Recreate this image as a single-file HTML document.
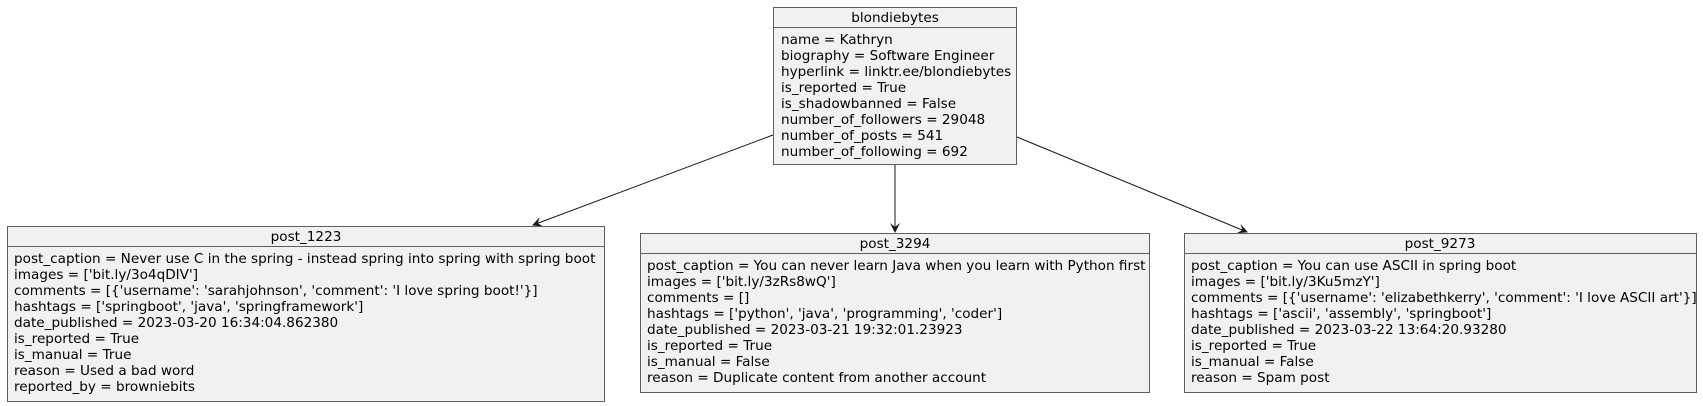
<!DOCTYPE html>
<html><head><meta charset="utf-8"><style>
html,body{margin:0;padding:0;background:#fff;}
svg{display:block;}
text{font-family:"DejaVu Sans","Liberation Sans",sans-serif;font-size:13.6px;fill:#000;}
</style></head><body>
<svg width="1703" height="406" viewBox="0 0 1703 406" xmlns="http://www.w3.org/2000/svg">
<defs><marker id="a" markerWidth="10" markerHeight="10" refX="9" refY="5" orient="auto" markerUnits="userSpaceOnUse"><path d="M0,0 L10,5 L0,10 L4,5 Z" fill="#181818"/></marker></defs>
<g stroke="#181818" stroke-width="1" fill="none">
<line x1="773" y1="135" x2="533" y2="225" marker-end="url(#a)"/>
<line x1="895" y1="165" x2="895" y2="232" marker-end="url(#a)"/>
<line x1="1017" y1="137" x2="1247" y2="232" marker-end="url(#a)"/>
</g>
<g fill="#F1F1F1" stroke="#5f5f5f" stroke-width="1">
<rect x="773.5" y="7.5" width="243" height="157"/>
<rect x="7.5" y="226.5" width="597" height="175"/>
<rect x="640.5" y="233.5" width="509" height="159"/>
<rect x="1184.5" y="233.5" width="512" height="159"/>
</g>
<g stroke="#5f5f5f" stroke-width="1">
<line x1="773" y1="27.5" x2="1017" y2="27.5"/>
<line x1="7" y1="246.5" x2="605" y2="246.5"/>
<line x1="640" y1="253.5" x2="1150" y2="253.5"/>
<line x1="1184" y1="253.5" x2="1697" y2="253.5"/>
</g>
<text x="895" y="22" text-anchor="middle">blondiebytes</text>
<g>
<text x="781" y="44">name = Kathryn</text>
<text x="781" y="60">biography = Software Engineer</text>
<text x="781" y="76">hyperlink = linktr.ee/blondiebytes</text>
<text x="781" y="92">is_reported = True</text>
<text x="781" y="108">is_shadowbanned = False</text>
<text x="781" y="124">number_of_followers = 29048</text>
<text x="781" y="140">number_of_posts = 541</text>
<text x="781" y="156">number_of_following = 692</text>
</g>
<text x="306" y="241" text-anchor="middle">post_1223</text>
<g>
<text x="14" y="263">post_caption = Never use C in the spring - instead spring into spring with spring boot</text>
<text x="14" y="279">images = ['bit.ly/3o4qDIV']</text>
<text x="14" y="295">comments = [{'username': 'sarahjohnson', 'comment': 'I love spring boot!'}]</text>
<text x="14" y="311">hashtags = ['springboot', 'java', 'springframework']</text>
<text x="14" y="327">date_published = 2023-03-20 16:34:04.862380</text>
<text x="14" y="343">is_reported = True</text>
<text x="14" y="359">is_manual = True</text>
<text x="14" y="375">reason = Used a bad word</text>
<text x="14" y="391">reported_by = browniebits</text>
</g>
<text x="895" y="248" text-anchor="middle">post_3294</text>
<g>
<text x="647" y="270">post_caption = You can never learn Java when you learn with Python first</text>
<text x="647" y="286">images = ['bit.ly/3zRs8wQ']</text>
<text x="647" y="302">comments = []</text>
<text x="647" y="318">hashtags = ['python', 'java', 'programming', 'coder']</text>
<text x="647" y="334">date_published = 2023-03-21 19:32:01.23923</text>
<text x="647" y="350">is_reported = True</text>
<text x="647" y="366">is_manual = False</text>
<text x="647" y="382">reason = Duplicate content from another account</text>
</g>
<text x="1440" y="248" text-anchor="middle">post_9273</text>
<g>
<text x="1191" y="270">post_caption = You can use ASCII in spring boot</text>
<text x="1191" y="286">images = ['bit.ly/3Ku5mzY']</text>
<text x="1191" y="302">comments = [{'username': 'elizabethkerry', 'comment': 'I love ASCII art'}]</text>
<text x="1191" y="318">hashtags = ['ascii', 'assembly', 'springboot']</text>
<text x="1191" y="334">date_published = 2023-03-22 13:64:20.93280</text>
<text x="1191" y="350">is_reported = True</text>
<text x="1191" y="366">is_manual = False</text>
<text x="1191" y="382">reason = Spam post</text>
</g>
</svg>
</body></html>
